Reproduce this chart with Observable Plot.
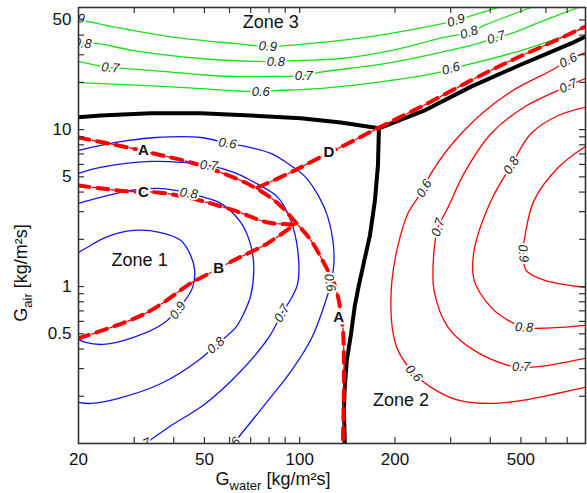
<!DOCTYPE html>
<html><head><meta charset="utf-8">
<script src="https://cdn.jsdelivr.net/npm/d3@7"></script>
<script src="https://cdn.jsdelivr.net/npm/@observablehq/plot@0.6"></script>
<style>html,body{margin:0;padding:0;background:#fff;}</style>
</head><body><div id="chart"></div>
<script>
// ---- axis ticks ----
const xMajor = [20, 50, 100, 200, 500];
const yMajor = [0.5, 1, 5, 10, 50];
const xMinor = [30, 40, 50, 60, 70, 80, 90, 100, 200, 300, 400, 500, 600, 700];
const yMinor = [0.2, 0.3, 0.4, 0.5, 0.6, 0.7, 0.8, 0.9, 1, 2, 3, 4, 5, 6, 7, 8, 9, 10, 20, 30, 40, 50];

// ---- zone boundaries (G_water, G_air) ----
const boundary13 = [[20,12.0],[23.5,12.3],[33.8,12.7],[48.7,12.7],[70.1,12.3],[100.8,11.8],[134.9,11.1],[178,10.2]];
const boundary23 = [[178,10.2],[247,13.2],[348,18.8],[501,26.0],[721,35.4],[800,39.2]];
const boundary12 = [[178,10.2],[176.7,5.91],[172.9,3.54],[166.7,2.12],[159.6,1.43],[153.8,1.02],[149.4,0.759],[145.1,0.491],[140.9,0.339],[138.9,0.235],[137.9,0.163],[138.9,0.1]];

// ---- red dash-dot paths A, B, C, D ----
const pathA = [[20,8.91],[28.6,7.70],[34.5,7.05],[48.7,5.91],[70.1,4.41],[85.3,3.39],[96.5,2.60],[108.5,1.97],[119.3,1.41],[128.3,1.05],[132.9,0.816],[134.9,0.655],[136.9,0.543],[137.9,0.354],[137.9,0.218],[136.9,0.1]];
const pathB = [[20,0.468],[32.6,0.675],[45.6,1.06],[50.5,1.18],[61.9,1.47],[79.3,1.89],[96.5,2.49]];
const pathC = [[20,4.41],[28.6,4.04],[35.6,3.98],[44.2,3.70],[61.9,3.06],[79.3,2.56],[96.5,2.49]];
const pathD = [[73.7,4.28],[93.7,5.34],[114.1,6.55],[142,8.16],[178,10.3],[247,14.3],[348,20.6],[466,27.6],[623,35.9],[800,45.4]];

// ---- Zone 1 contours (blue) ----
const blue09 = [[20,1.65],[21.35,1.78],[24.35,2.06],[29.86,2.28],[36.36,2.21],[42.04,1.97],[45.22,1.58],[46.56,1.27],[45.88,0.988],[42.97,0.793],[37.16,0.583],[29.86,0.474],[24.0,0.428],[21.04,0.441],[20,0.461]];
const blue08 = [[20,3.39],[23.48,3.70],[29.22,4.10],[35.57,4.22],[40.55,4.10],[48.65,3.75],[56.29,3.39],[65.13,2.56],[70.05,1.83],[71.6,1.31],[70.05,0.877],[66.57,0.675],[62.79,0.550],[54.27,0.422],[47.94,0.339],[36.62,0.242],[26.77,0.194],[21.99,0.180],[20,0.183]];
const blue07 = [[20,5.26],[23.48,5.74],[33.8,6.27],[42.97,6.18],[51.57,5.91],[61.88,5.34],[70.05,4.74],[85.29,3.70],[93.69,2.64],[98.6,1.70],[98.6,1.05],[94.39,0.852],[87.81,0.675],[79.88,0.474],[64.18,0.280],[50.45,0.180],[38.53,0.127],[32.58,0.1]];
const blue06 = [[20,7.37],[23.48,7.93],[28.79,8.53],[35.06,8.91],[48.65,8.91],[59.23,8.16],[67.55,7.81],[81.05,7.05],[93.69,5.91],[104.5,4.96],[116.7,3.54],[122.8,2.76],[127.3,1.97],[128.3,1.43],[125.5,1.06],[121.0,0.816],[109.3,0.474],[94.39,0.293],[78.15,0.180],[64.18,0.110],[61.88,0.1]];

// ---- Zone 2 contours (red) ----
const red06 = [[800,31.0],[705.6,27.6],[623.3,23.8],[455.7,17.0],[330.6,9.88],[260,5.26],[247.1,4.22],[219.8,2.93],[204.4,1.83],[195.7,1.10],[194.2,0.737],[196.6,0.528],[204.4,0.392],[229.6,0.280],[260,0.228],[316.4,0.189],[402.6,0.180],[511.7,0.189],[656,0.209],[800,0.228]];
const red07 = [[800,21.2],[705.6,19.0],[511.7,13.9],[402.6,9.45],[330.6,5.26],[294.4,3.20],[273.7,2.38],[265.8,1.70],[265.8,0.946],[294.4,0.550],[355.7,0.392],[455.7,0.315],[500.6,0.306],[579.5,0.310],[800,0.349]];
const red08 = [[800,13.9],[656,12.3],[538.4,9.45],[465.8,5.91],[402.6,3.54],[355.7,1.70],[355.7,1.10],[402.6,0.737],[455.7,0.609],[511.7,0.550],[592.3,0.543],[800,0.566]];
const red09 = [[800,7.81],[656,5.74],[550.3,3.54],[515.4,2.12],[508.2,1.63],[519.2,1.27],[592.3,1.10],[800,0.988]];

// ---- Zone 3 contours (green) ----
const green09 = [[20,50.3],[29.86,42.8],[42.97,38.1],[61.88,35.4],[79.29,33.9],[100.8,34.9],[152.7,38.1],[247.1,44.8],[312,49.6],[366.2,54.9],[423.6,60]];
const green08 = [[20,35.9],[22.96,35.4],[29.86,31.9],[48.65,28.4],[71.6,27.2],[84.05,27.2],[100.8,27.6],[134.9,28.4],[194.2,31.9],[285.9,38.7],[343,41.6],[382.5,46.1],[538.4,60]];
const green07 = [[20,27.2],[22.96,25.6],[25.24,24.8],[28.58,24.5],[48.65,22.4],[61.88,21.8],[81.05,21.8],[103,22.1],[114.1,23.1],[194.2,26.7],[316.4,32.9],[374.4,35.9],[417.5,38.7],[465.8,41.0],[592.3,49.6],[758.9,60]];
const green06 = [[20,19.9],[38.25,18.8],[68.54,17.5],[75.33,17.5],[85.29,17.8],[100.8,18.0],[134.9,18.8],[194.2,20.6],[273.7,23.1],[300.6,24.5],[330.6,25.6],[500.6,31.9],[721.2,41.0],[800,44.8]];

// ---- contour labels: [G_water, G_air, text, angle] ----
const contourLabels = [
  [19.6,51.8,"0.9",10],[79.3,33.9,"0.9",3],[312,49.6,"0.9",-18],
  [20.6,35.4,"0.8",5],[84.1,27.2,"0.8",0],[343,41.6,"0.8",-18],
  [25.2,24.8,"0.7",5],[103,22.1,"0.7",0],[417.5,38.7,"0.7",-18],
  [75.3,17.5,"0.6",0],[300.6,24.5,"0.6",-15],
  [59.2,8.16,"0.6",8],[124.5,1.06,"0.6",80],[51.6,5.91,"0.7",5],[87.8,0.675,"0.7",-60],
  [44.6,3.92,"0.8",8],[54.3,0.422,"0.8",-42],[41.2,0.705,"0.9",-55],
  [31.7,0.097,"0.7",-25],[61.0,0.097,"0.6",-45],
  [705.6,27.6,"0.6",-27],[247.1,4.22,"0.6",-60],[229.6,0.280,"0.6",48],
  [705.6,19.0,"0.7",-25],[273.7,2.38,"0.7",-72],[500.6,0.306,"0.7",0],
  [465.8,5.91,"0.8",-58],[511.7,0.550,"0.8",3],[508.2,1.63,"0.9",85]
];
const pathLabels = [[32.1,7.37,"A"],[32.1,3.98,"C"],[123.7,7.16,"D"],[55.5,1.31,"B"],[132.9,0.637,"A"]];
const zoneLabels = [[81,48.2,"Zone 3"],[31.2,1.47,"Zone 1"],[208.9,0.189,"Zone 2"]];

const FONT = "'Liberation Sans', Arial, Helvetica, sans-serif";
const BLUE = "#1414f0", RED = "#ff0000", GREEN = "#19e019", AX = "#333";
const W = 587, H = 493, mL = 78, mR = 2, mT = 7, mB = 50;
const fw = W - mL - mR, fh = H - mT - mB, TL = 6;

const px = d => d[0], py = d => d[1];
const contour = (data, stroke) => Plot.line(data, {x: px, y: py, stroke, strokeWidth: 1.3, curve: "catmull-rom", clip: true});
const boundary = data => Plot.line(data, {x: px, y: py, stroke: "#000", strokeWidth: 4, strokeLinejoin: "round", clip: true});
const dashA = data => Plot.line(data, {x: px, y: py, stroke: RED, strokeWidth: 4, strokeDasharray: "11,8", curve: "catmull-rom", clip: true});
const dashB = data => Plot.line(data, {x: px, y: py, stroke: RED, strokeWidth: 1.3, strokeDasharray: "0,14,3,2", curve: "catmull-rom", clip: true});

const chart = Plot.plot({
  width: W, height: H,
  marginLeft: mL, marginRight: mR, marginTop: mT, marginBottom: mB,
  x: {type: "log", domain: [20, 800], axis: null},
  y: {type: "log", domain: [0.1, 60], axis: null},
  style: {fontFamily: FONT, background: "#fff", color: "#000"},
  marks: [
    contour(green09, GREEN), contour(green08, GREEN), contour(green07, GREEN), contour(green06, GREEN),
    contour(blue09, BLUE), contour(blue08, BLUE), contour(blue07, BLUE), contour(blue06, BLUE),
    contour(red09, RED), contour(red08, RED), contour(red07, RED), contour(red06, RED),
    boundary(boundary13), boundary(boundary23), boundary(boundary12),
    ...[pathA, pathB, pathC, pathD].flatMap(p => [dashA(p), dashB(p)]),
    Plot.text(contourLabels, {x: d => d[0], y: d => d[1], text: d => d[2], rotate: d => d[3],
      fontSize: 13, fontStyle: "italic", fill: "#222", stroke: "#fff", strokeWidth: 4, clip: true}),
    Plot.text(pathLabels, {x: d => d[0], y: d => d[1], text: d => d[2],
      fontSize: 15, fontWeight: "bold", fill: "#111", stroke: "#fff", strokeWidth: 5}),
    Plot.text(zoneLabels, {x: d => d[0], y: d => d[1], text: d => d[2], fontSize: 18, fill: "#111"}),
    Plot.frame({stroke: AX, strokeWidth: 1.6}),
    Plot.tickX(xMinor, {x: d => d, insetTop: fh - TL, stroke: AX, strokeWidth: 1.2}),
    Plot.tickX(xMinor, {x: d => d, insetBottom: fh - TL, stroke: AX, strokeWidth: 1.2}),
    Plot.tickY(yMinor, {y: d => d, insetRight: fw - TL, stroke: AX, strokeWidth: 1.2}),
    Plot.tickY(yMinor, {y: d => d, insetLeft: fw - TL, stroke: AX, strokeWidth: 1.2}),
    Plot.text(xMajor, {x: d => d, text: d => String(d), frameAnchor: "bottom", lineAnchor: "top", dy: 9, fontSize: 17, fill: "#111"}),
    Plot.text(yMajor, {y: d => d, text: d => String(d), frameAnchor: "left", textAnchor: "end", dx: -7, fontSize: 17, fill: "#111"})
  ]
});
document.getElementById("chart").appendChild(chart);

// axis titles with subscripts
const svg = d3.select(chart);
const xt = svg.append("text").attr("x", 273).attr("y", 485).attr("font-size", 18).attr("fill", "#111").attr("font-family", FONT);
xt.append("tspan").text("G");
xt.append("tspan").attr("font-size", 13).attr("dy", 5).text("water");
xt.append("tspan").attr("dy", -5).text(" [kg/m²s]");
const yt = svg.append("text").attr("transform", "translate(27,273) rotate(-90)").attr("font-size", 18).attr("fill", "#111").attr("font-family", FONT);
yt.append("tspan").text("G");
yt.append("tspan").attr("font-size", 13).attr("dy", 5).text("air");
yt.append("tspan").attr("dy", -5).text(" [kg/m²s]");
</script></body></html>
